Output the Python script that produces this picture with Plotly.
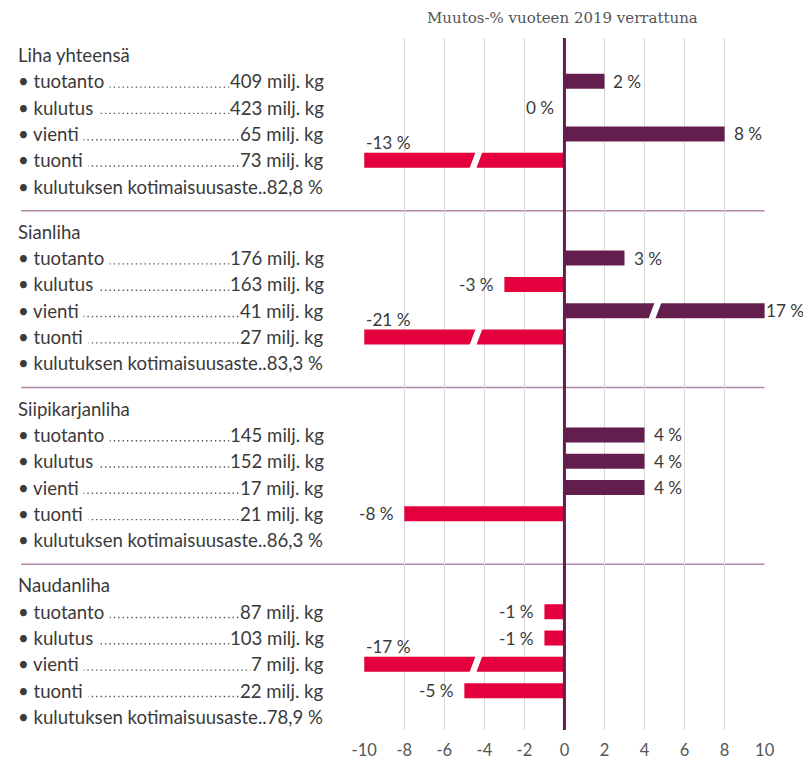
import plotly.graph_objects as go

# Tiedot
groups = ["Liha yhteensä", "Sianliha", "Siipikarjanliha", "Naudanliha"]
items = ["tuotanto", "kulutus", "vienti", "tuonti"]
volumes = [
    [409, 423, 65, 73],
    [176, 163, 41, 27],
    [145, 152, 17, 21],
    [87, 103, 7, 22],
]
self_sufficiency = ["82,8", "83,3", "86,3", "78,9"]
changes = [
    [2, 0, 8, -13],
    [3, -3, 17, -21],
    [4, 4, 4, -8],
    [-1, -1, -17, -5],
]
x_ticks = [-10, -8, -6, -4, -2, 0, 2, 4, 6, 8, 10]

W, H = 811, 760
COL_POS = "#641E4E"
COL_NEG = "#E4003D"
TEXT = "#3a3a3a"
FONT = "Lato"
FS = 18.6
GROUP_STEP = 6.72
ROW_PX = 26.31
BAR_W = 0.57
LIMIT = 10

# sivun sijoitus kuvassa (mitattu)
OX, SX, OY = 17.5, 0.978, 8


def px(r):
    """kuvan x-pikseli -> paper-koordinaatti"""
    return max(0.0, (r - OX) / SX) / W


def py(r):
    """kuvan y-pikseli -> paper-koordinaatti"""
    return 1 - (r - OY) / H


def row_y(g, r):
    return g * GROUP_STEP + r


bar_y, bar_x, bar_col = [], [], []
annotations, shapes = [], []
lf = dict(family=FONT, size=FS, color=TEXT)

for g, name in enumerate(groups):
    annotations.append(dict(
        x=0, y=row_y(g, 0), xref="paper", yref="y", text=name,
        xanchor="left", yanchor="middle", showarrow=False, font=lf,
        borderpad=0, xshift=-4))
    for i, item in enumerate(items):
        y = row_y(g, i + 1)
        v = changes[g][i]
        bar_y.append(y)
        bar_x.append(v)
        bar_col.append(COL_POS if v > 0 else COL_NEG)

        # pistejohde
        shapes.append(dict(
            type="line", xref="paper", yref="y", x0=px(40), x1=px(320),
            y0=y + 0.22, y1=y + 0.22, layer="below",
            line=dict(color="#555555", width=1.4, dash="1.4px,3px")))
        annotations.append(dict(
            x=0, y=y, xref="paper", yref="y", text="• " + item + " ",
            xanchor="left", yanchor="middle", showarrow=False, bgcolor="white",
            borderpad=0, xshift=-4, font=lf))
        annotations.append(dict(
            x=px(323), y=y, xref="paper", yref="y",
            text=f"{volumes[g][i]} milj. kg",
            xanchor="right", yanchor="middle", showarrow=False, bgcolor="white",
            borderpad=0, font=lf))

        # muutos-% -teksti
        lbl = f"{v} %"
        bf = dict(family=FONT, size=17.2, color=TEXT)
        if v < -LIMIT:
            annotations.append(dict(x=-LIMIT, y=y, xref="x", yref="y", text=lbl,
                                    xanchor="left", yanchor="middle", yshift=18,
                                    showarrow=False, font=bf))
        elif v > LIMIT:
            annotations.append(dict(x=LIMIT, y=y, xref="x", yref="y", text=lbl,
                                    xanchor="left", yanchor="middle", xshift=0,
                                    showarrow=False, font=bf, borderpad=0))
        elif v > 0:
            annotations.append(dict(x=v, y=y, xref="x", yref="y", text=lbl,
                                    xanchor="left", yanchor="middle", xshift=7,
                                    showarrow=False, font=bf))
        else:
            annotations.append(dict(x=v, y=y, xref="x", yref="y", text=lbl,
                                    xanchor="right", yanchor="middle", xshift=-8,
                                    showarrow=False, font=bf))

        # katkos pitkiin palkkeihin
        if abs(v) > LIMIT:
            xc = -4.42 if v < 0 else 4.52
            hw, sl = 0.17, 0.15
            t, b = y - BAR_W / 2 - 0.02, y + BAR_W / 2 + 0.02
            shapes.append(dict(
                type="path", xref="x", yref="y", line=dict(width=0),
                fillcolor="white", layer="above",
                path=(f"M {xc - hw - sl},{b} L {xc + hw - sl},{b} "
                      f"L {xc + hw + sl},{t} L {xc - hw + sl},{t} Z")))

    annotations.append(dict(
        x=0, y=row_y(g, 5), xref="paper", yref="y",
        text=f"• kulutuksen kotimaisuusaste..{self_sufficiency[g]} %",
        xanchor="left", yanchor="middle", showarrow=False, font=lf,
        borderpad=0, xshift=-4))

    if g > 0:
        ys = g * GROUP_STEP - 0.8
        shapes.append(dict(type="line", xref="paper", yref="y", x0=px(12), x1=px(766),
                           y0=ys, y1=ys, layer="below",
                           line=dict(color="#B08AA8", width=1.5)))

# nollaviiva
shapes.append(dict(type="line", xref="x", yref="paper", x0=0, x1=0,
                   y0=py(730), y1=py(38), layer="above",
                   line=dict(color=COL_POS, width=3)))

annotations.append(dict(
    x=px(563), y=py(18), xref="paper", yref="paper",
    text="Muutos-% vuoteen 2019 verrattuna", showarrow=False,
    xanchor="center", yanchor="middle",
    font=dict(family="DejaVu Serif", size=15, color="#555555")))

fig = go.Figure(go.Bar(
    x=bar_x, y=bar_y, orientation="h", width=BAR_W,
    marker=dict(color=bar_col, line=dict(width=0)),
    hoverinfo="x", showlegend=False,
))

fig.update_layout(
    width=W, height=H,
    margin=dict(l=0, r=0, t=0, b=0),
    plot_bgcolor="white", paper_bgcolor="white",
    xaxis=dict(
        domain=[px(363), px(766)], range=[-LIMIT, LIMIT],
        tickvals=x_ticks, ticktext=[str(t) for t in x_ticks],
        showgrid=True, gridcolor="#D9D9D9", gridwidth=1,
        zeroline=False, showline=False, ticks="",
        ticklabelstandoff=8,
        tickfont=dict(family=FONT, size=16.5, color="#555555"),
    ),
    yaxis=dict(
        domain=[py(730), py(38)],
        range=[(730 - 55) / ROW_PX, (38 - 55) / ROW_PX],
        showgrid=False, zeroline=False, showticklabels=False, ticks="",
    ),
    annotations=annotations,
    shapes=shapes,
)

fig.write_html("out.html")
